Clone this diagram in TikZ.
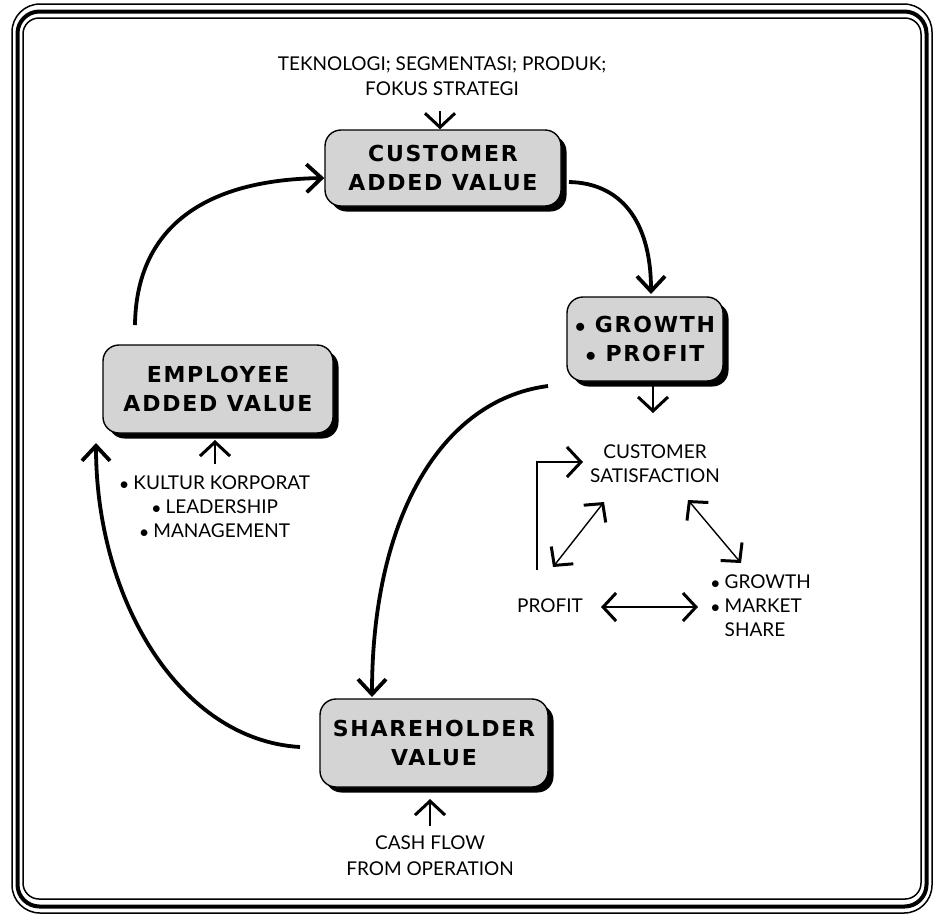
\documentclass[tikz,border=0pt]{standalone}
\usepackage{fontspec}
\setmainfont{Lato}
\newfontfamily\boxfont[LetterSpace=8]{DejaVu Sans}
\usetikzlibrary{arrows.meta,shadows}
\definecolor{boxgray}{HTML}{D4D4D4}
\tikzset{
  bx/.style={draw=black, line width=1.4pt, fill=boxgray, rounded corners=16pt,
    align=center, inner sep=0pt,
    font=\boxfont\bfseries\fontsize{22}{29}\selectfont,
    drop shadow={shadow xshift=5.5pt, shadow yshift=-5.5pt, fill=black, opacity=1}},
  lbl/.style={align=center, inner sep=1pt, font=\fontsize{19}{24}\selectfont},
  bigarr/.style={line width=3.8pt, -{Straight Barb[length=15pt,width=28pt,line width=3.8pt]}},
  smarr/.style={line width=1.4pt, -{Straight Barb[length=14pt,width=30pt,line width=3pt]}},
  dblarr/.style={line width=1.4pt, {Straight Barb[length=13pt,width=28pt,line width=3pt]}-{Straight Barb[length=13pt,width=28pt,line width=3pt]}},
}
\begin{document}
\begin{tikzpicture}[x=1pt,y=-1pt]
\useasboundingbox (0,0) rectangle (941,914);
% frame
\draw[line width=1.5pt, rounded corners=28pt] (12,4) rectangle (932,913);
\draw[line width=4pt, rounded corners=22pt] (17.5,11.5) rectangle (926.5,906.5);
\draw[line width=1.5pt, rounded corners=16pt] (23,18) rectangle (921,899);

% boxes
\node[bx, minimum width=236pt, minimum height=76pt] (cav) at (443,168) {CUSTOMER\\ADDED VALUE};
\node[bx, minimum width=156pt, minimum height=84pt] (gp) at (645,339) {$\bullet$ GROWTH\\$\bullet$ PROFIT};
\node[bx, minimum width=230pt, minimum height=88pt] (emp) at (218,389) {EMPLOYEE\\ADDED VALUE};
\node[bx, minimum width=228pt, minimum height=88pt] (sh) at (434,743) {SHAREHOLDER\\VALUE};

% inputs
\node[lbl, font=\fontsize{19}{25}\selectfont] (tek) at (442,76) {TEKNOLOGI; SEGMENTASI; PRODUK;\\FOKUS STRATEGI};
\coordinate (tekout) at (440,111);
\draw[smarr] (tekout) -- (tekout |- cav.north);

\node[lbl, font=\fontsize{19}{24}\selectfont] (kul) at (215,507) {$\bullet$ KULTUR KORPORAT\\$\bullet$ LEADERSHIP\\$\bullet$ MANAGEMENT};
\coordinate (kulout) at (215,464);
\draw[smarr] (kulout) -- (215,440);

\node[lbl, font=\fontsize{19}{26}\selectfont] (cash) at (430,856) {CASH FLOW\\FROM OPERATION};
\coordinate (cashout) at (430,826);
\draw[smarr] (cashout) -- (430,799);

% customer satisfaction triangle
\node[lbl] (cs) at (655,464) {CUSTOMER\\SATISFACTION};
\coordinate (gpout) at (653,413);
\draw[smarr] (653,386) -- (gpout);
\node[lbl] (pr) at (550,606) {PROFIT};
\node[lbl, align=left, anchor=west, font=\fontsize{19}{24}\selectfont] (gm) at (710,606) {$\bullet$ GROWTH\\$\bullet$ MARKET\\\phantom{$\bullet$ }SHARE};
\coordinate (elb) at (537,570);
\coordinate (elbend) at (583,462);
\draw[smarr] (elb) |- (elbend);
\draw[dblarr] (553,567) -- (604,502);
\draw[dblarr] (688,500) -- (741,563);
\draw[dblarr] (601,607) -- (698,607);

% big cycle arrows
\draw[bigarr] (135,325) .. controls (136,235) and (195,180) .. (cav.west |- 0,178);
\draw[bigarr] (569,182) .. controls (620,183) and (651,220) .. (651,294);
\draw[bigarr] (548,386) .. controls (440,400) and (372,520) .. (372,697);
\draw[bigarr] (300,747) .. controls (180,740) and (96,600) .. (96,443);
\end{tikzpicture}
\end{document}
